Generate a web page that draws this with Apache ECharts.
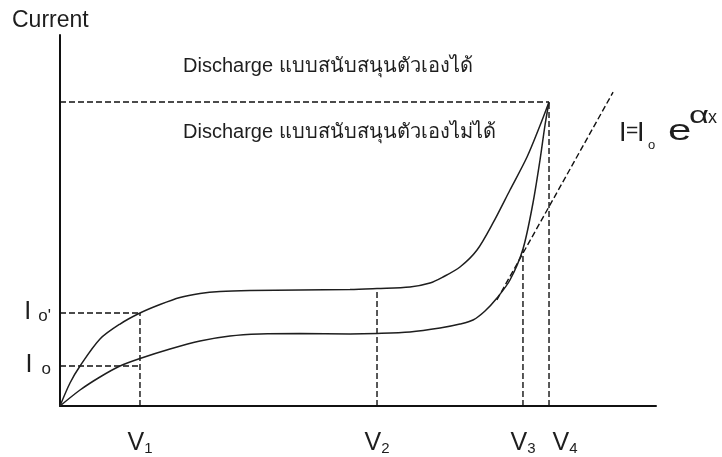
<!DOCTYPE html>
<html>
<head>
<meta charset="utf-8">
<script src="https://cdn.jsdelivr.net/npm/echarts@6/dist/echarts.min.js"></script>
<style>
  html, body { margin: 0; padding: 0; background: #fff; }
  #chart { width: 722px; height: 457px; }
</style>
</head>
<body>
<div id="chart"></div>
<script>
// Voltage marks on the horizontal axis (V1..V4)
const vSubs = ['1', '2', '3', '4'];
const vValues = [13.42, 53.19, 77.68, 82.05];

// Current marks on the vertical axis (Io, Io')
const iSubs = ['o', "o'"];
const iValues = [10.78, 25.07];

// Upper branch: self-sustaining discharge
const upperX = [0, 1.68, 3.36, 6.71, 10.07, 13.42, 16.78, 20.13, 23.49, 26.85, 31.88, 40.27, 48.66, 53.19, 58.72, 62.08, 64.26, 67.11, 69.97, 72.65, 75.50, 78.36, 80.54, 82.05];
const upperY = [0, 6.20, 10.78, 18.06, 22.10, 25.07, 27.36, 29.25, 30.32, 30.86, 31.13, 31.27, 31.40, 31.67, 32.08, 33.15, 34.77, 37.47, 42.05, 49.33, 58.22, 67.12, 75.60, 81.94];

// Lower branch: non self-sustaining discharge
const lowerX = [0, 3.36, 6.71, 10.07, 13.42, 18.46, 23.49, 28.52, 33.56, 40.27, 48.66, 53.19, 58.72, 63.76, 67.11, 69.30, 71.31, 73.32, 75.50, 77.68, 79.36, 80.54, 81.38, 82.05];
const lowerY = [0, 4.31, 7.82, 10.78, 12.80, 15.36, 17.52, 18.87, 19.41, 19.54, 19.41, 19.54, 19.95, 21.02, 22.10, 23.18, 25.61, 29.11, 33.96, 42.32, 54.72, 66.31, 75.74, 81.94];

// Exponential asymptote I = Io e^(αx)
const tangentX = [73.3, 92.8];
const tangentY = [28.6, 84.6];

// Where each vertical guide at V1..V4 stops
const guideTops = [25.07, 31.67, 42.32, 81.94];

const FONT = '"Liberation Sans", Arial, sans-serif';
const INK = '#1e1e1e';

const zip = (xs, ys) => xs.map((x, i) => [x, ys[i]]);

// dashed guide segments
const guides = [];
vValues.forEach((v, i) => guides.push([[v, 0], [v, guideTops[i]]]));
iValues.forEach(iv => guides.push([[0, iv], [vValues[0], iv]]));
guides.push([[0, guideTops[3]], [vValues[3], guideTops[3]]]);

const dashed = { color: '#111', width: 1.4, type: [6, 3] };

const series = [];
guides.forEach(seg => series.push({
  type: 'line', data: seg, symbol: 'none', silent: true,
  lineStyle: dashed
}));
series.push({
  type: 'line', data: zip(tangentX, tangentY), symbol: 'none', silent: true,
  lineStyle: dashed
});
[zip(upperX, upperY), zip(lowerX, lowerY)].forEach(d => series.push({
  type: 'line', data: d, symbol: 'none', silent: true,
  smooth: 0.3,
  lineStyle: { color: INK, width: 1.5 }
}));

const vRich = {
  v: { fontSize: 25, fontFamily: FONT, color: INK, verticalAlign: 'bottom', lineHeight: 26 },
  v4: { fontSize: 25, fontFamily: FONT, color: INK, verticalAlign: 'bottom', lineHeight: 26, padding: [0, 0, 0, 32] },
  s: { fontSize: 15, fontFamily: FONT, color: INK, verticalAlign: 'bottom', lineHeight: 20 }
};
const vLabel = function (val) {
  const k = vValues.indexOf(val);
  return '{' + (k === 3 ? 'v4' : 'v') + '|V}{s|' + vSubs[k] + '}';
};

const chart = echarts.init(document.getElementById('chart'), null, { renderer: 'canvas' });

chart.setOption({
  animation: false,
  backgroundColor: '#fff',
  textStyle: { fontFamily: FONT },
  grid: { left: 60, right: 66, top: 35, bottom: 51, containLabel: false, outerBoundsMode: 'none' },
  xAxis: [{
    type: 'value', min: 0, max: 100,
    axisLine: { lineStyle: { color: '#111', width: 2 } },
    axisTick: { show: false },
    splitLine: { show: false },
    axisLabel: { customValues: vValues.slice(0, 3), margin: 24, hideOverlap: false, formatter: vLabel, rich: vRich }
  }, {
    // carries the V4 label, nudged right of its guide
    type: 'value', min: 0, max: 100, position: 'bottom',
    axisLine: { show: false },
    axisTick: { show: false },
    splitLine: { show: false },
    axisLabel: { customValues: vValues.slice(3), margin: 24, hideOverlap: false, formatter: vLabel, rich: vRich }
  }],
  yAxis: {
    type: 'value', min: 0, max: 100,
    axisLine: { lineStyle: { color: '#111', width: 2 } },
    axisTick: { show: false },
    splitLine: { show: false },
    axisLabel: {
      customValues: iValues,
      margin: 9,
      formatter: function (val) {
        const k = iValues.indexOf(val);
        return k === 0 ? '{i|I}{o|' + iSubs[0] + '}' : '{i|I}{p|' + iSubs[1] + '}';
      },
      rich: {
        i: { fontSize: 25, fontFamily: FONT, color: INK, verticalAlign: 'bottom', lineHeight: 24 },
        o: { fontSize: 17, fontFamily: FONT, color: INK, verticalAlign: 'bottom', lineHeight: 20, padding: [0, 0, 0, 9] },
        p: { fontSize: 17, fontFamily: FONT, color: INK, verticalAlign: 'bottom', lineHeight: 20, padding: [0, 0, 0, 7] }
      }
    }
  },
  graphic: [
    { type: 'text', x: 12, y: 21, style: { text: 'Current', font: '23px ' + FONT, fill: INK, verticalAlign: 'middle' } },
    { type: 'text', x: 183, y: 66, style: { text: 'Discharge แบบสนับสนุนตัวเองได้', font: '20px ' + FONT, fill: INK, verticalAlign: 'middle' } },
    { type: 'text', x: 183, y: 132.5, style: { text: 'Discharge แบบสนับสนุนตัวเองไม่ได้', font: '20px ' + FONT, fill: INK, verticalAlign: 'middle' } },
    // I = Io e^(αx)
    { type: 'text', x: 619, y: 133.5, style: { text: 'I', font: '27px ' + FONT, fill: INK, verticalAlign: 'middle' } },
    { type: 'text', x: 626, y: 131.5, style: { text: '=', font: '21px ' + FONT, fill: INK, verticalAlign: 'middle' } },
    { type: 'text', x: 637, y: 133.5, style: { text: 'I', font: '27px ' + FONT, fill: INK, verticalAlign: 'middle' } },
    { type: 'text', x: 648, y: 145.5, style: { text: 'o', font: '13px ' + FONT, fill: INK, verticalAlign: 'middle' } },
    { type: 'text', x: 668, y: 132, scaleX: 1.45, style: { text: 'e', font: '29px ' + FONT, fill: INK, verticalAlign: 'middle' } },
    { type: 'text', x: 689, y: 117, scaleX: 1.5, style: { text: 'α', font: '23px ' + FONT, fill: INK, verticalAlign: 'middle' } },
    { type: 'text', x: 708, y: 118.5, style: { text: 'x', font: '18px ' + FONT, fill: INK, verticalAlign: 'middle' } }
  ],
  series: series
});
</script>
</body>
</html>
